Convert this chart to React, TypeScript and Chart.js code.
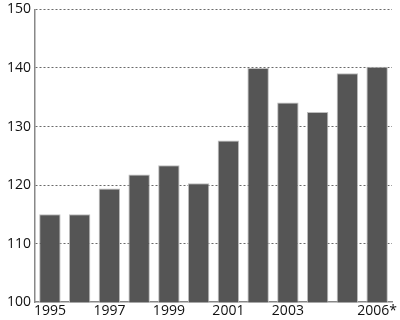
import React, { useEffect, useRef } from "react";
import { Chart, registerables } from "chart.js";

Chart.register(...registerables);

const years = ["1995", "1996", "1997", "1998", "1999", "2000", "2001", "2002", "2003", "2004", "2005", "2006*"];
const shownLabels = ["1995", "", "1997", "", "1999", "", "2001", "", "2003", "", "", "2006*"];
const values = [115, 115, 119.4, 121.8, 123.4, 120.3, 127.6, 140, 134.1, 132.5, 139.1, 140.2];
const yTicks = [100, 110, 120, 130, 140, 150];

export default function App() {
  const ref = useRef<HTMLCanvasElement>(null);
  useEffect(() => {
    document.body.style.margin = "0";
    const ctx = ref.current!;
    const chart = new Chart(ctx, {
      type: "bar",
      data: {
        labels: years,
        datasets: [
          {
            data: values,
            backgroundColor: "#555555",
            borderColor: "#bdbdbd",
            borderWidth: 1,
            categoryPercentage: 1,
            barPercentage: 0.72,
          },
        ],
      },
      options: {
        animation: false,
        responsive: false,
        layout: { padding: { left: 3, right: 8, top: 0, bottom: 0 } },
        plugins: { legend: { display: false }, tooltip: { enabled: false } },
        scales: {
          x: {
            grid: { display: false, drawTicks: false },
            border: { display: true, color: "#888888", width: 1.5 },
            ticks: {
              autoSkip: false,
              maxRotation: 0,
              padding: 0,
              color: "#111",
              font: { family: "Open Sans", size: 14 },
              callback: (_v, i) => shownLabels[i],
            },
          },
          y: {
            min: 100,
            max: 150,
            afterBuildTicks: (axis) => {
              axis.ticks = yTicks.map((v) => ({ value: v }));
            },
            grid: {
              color: (c) => (c.tick && c.tick.value === 100 ? "rgba(0,0,0,0)" : "#444"),
              lineWidth: 0.8,
              drawTicks: false,
            },
            border: { display: true, color: "#888888", width: 1.5, dash: [2, 2] },
            ticks: {
              padding: 4,
              color: "#111",
              font: { family: "Open Sans", size: 14 },
            },
          },
        },
      },
    });
    return () => chart.destroy();
  }, []);
  return (
    <div style={{ width: 400, height: 320, overflow: "hidden" }}>
      <canvas ref={ref} width={400} height={322} style={{ display: "block", marginTop: -3 }} />
    </div>
  );
}
